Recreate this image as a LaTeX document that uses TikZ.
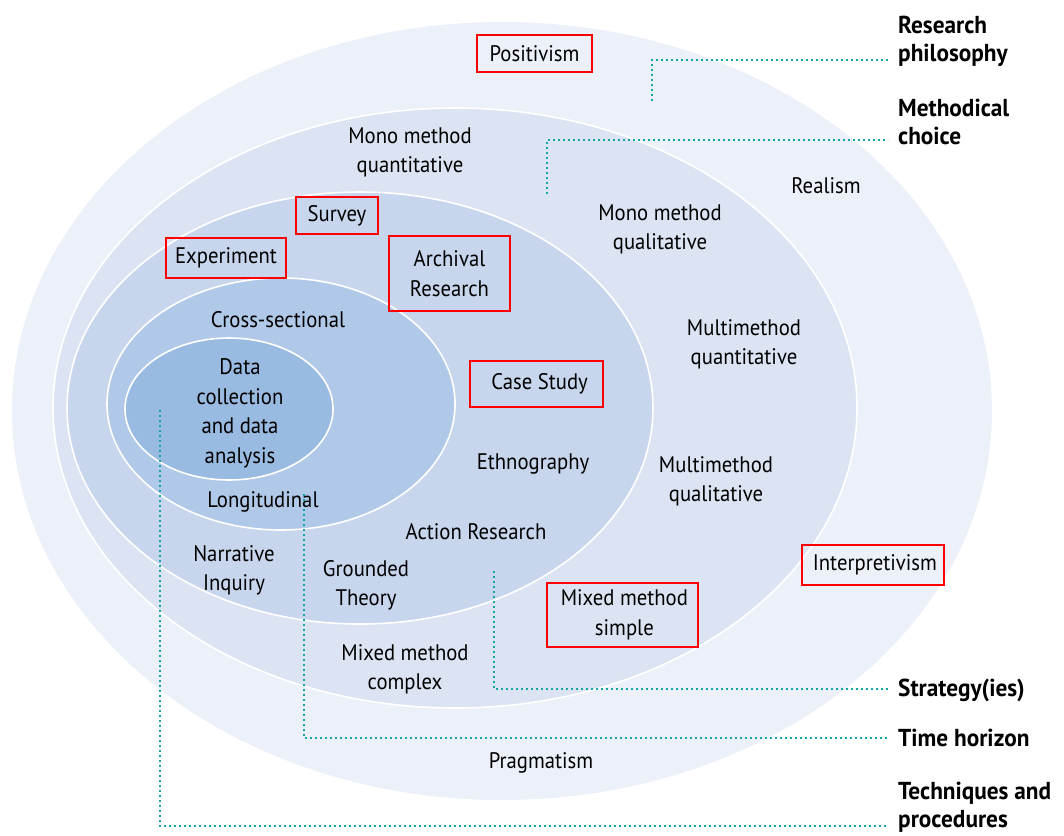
\documentclass[tikz,border=0pt]{standalone}
\usepackage{fontspec}
\setmainfont{PT Sans}[FakeStretch=0.92]
\newfontfamily\headfont{PT Sans}[FakeStretch=0.95]
\usepackage{tikz}
\usetikzlibrary{positioning}
\usepackage{xcolor}
\definecolor{ringA}{RGB}{236,240,249}
\definecolor{ringB}{RGB}{220,228,243}
\definecolor{ringC}{RGB}{199,214,237}
\definecolor{ringD}{RGB}{177,201,232}
\definecolor{ringE}{RGB}{153,186,225}
\definecolor{leadteal}{RGB}{20,165,165}

\begin{document}
\begin{tikzpicture}[x=1pt,y=-1pt,
  layer/.style={fill=#1,draw=white,line width=1.6pt},
  txt/.style={inner sep=0pt,align=center,text=black,font=\fontsize{22.5}{29.5}\selectfont},
  boxed/.style={txt,draw=red,line width=1.8pt},
  head/.style={inner sep=0pt,align=left,anchor=west,font=\headfont\bfseries\fontsize{24.5}{28}\selectfont},
  lead/.style={draw=leadteal,line width=2.6pt,dash pattern=on 2pt off 3pt}
  ]
\useasboundingbox (0,0) rectangle (1064,835);
% the onion, outside in
\fill[ringA] (502,411) ellipse [x radius=490,y radius=389];
\draw[layer=ringB] (455,408) ellipse [x radius=402,y radius=300];
\draw[layer=ringC] (360,408) ellipse [x radius=293,y radius=216];
\draw[layer=ringD] (281,404) ellipse [x radius=174,y radius=126];
\draw[layer=ringE] (229,409) ellipse [x radius=104,y radius=71];

% leaders
\coordinate (RPs) at (652,101);
\coordinate (RPe) at (888,60);
\coordinate (MCs) at (547,194);
\coordinate (MCe) at (888,140);
\coordinate (STs) at (494,571);
\coordinate (STe) at (888,689);
\coordinate (THs) at (304,494);
\coordinate (THe) at (888,738);
\coordinate (TPs) at (160,410);
\coordinate (TPe) at (888,826);
\draw[lead] (RPs) |- (RPe);
\draw[lead] (MCs) |- (MCe);
\draw[lead] (STs) |- (STe);
\draw[lead] (THs) |- (THe);
\draw[lead] (TPs) |- (TPe);

% layer names
\node[head] (RP) at (898,41) {Research\\philosophy};
\node[head] (MC) at (898,121.5) {Methodical\\choice};
\node[head] (ST) at (898,690) {Strategy(ies)};
\node[head] (TH) at (898,738) {Time horizon};
\node[head] (TP) at (898,807) {Techniques and\\procedures};

% philosophies
\node[boxed,minimum width=115,minimum height=37] (posit) at (534.5,53.5) {Positivism};
\node[txt] (realism) at (826,186) {Realism};
\node[boxed,minimum width=142,minimum height=40] (interp) at (873,565) {\,Interpretivism};
\node[txt] (pragm) at (541,763) {Pragmatism};

% methodical choices
\node[txt] (monoqt) at (410,152.5) {Mono method\\quantitative};
\node[txt] (monoql) at (660,229.5) {Mono method\\qualitative};
\node[txt] (multiqt) at (744,344.5) {Multimethod\\quantitative};
\node[txt] (multiql) at (716,481.5) {Multimethod\\qualitative};
\node[boxed,minimum width=151,minimum height=64] (mixsim) at (622.5,615) {\,Mixed method\\\,simple};
\node[txt] (mixcom) at (405,669.5) {Mixed method\\complex};

% strategies
\node[boxed,minimum width=82,minimum height=37] (survey) at (337,215.5) {Survey};
\node[boxed,minimum width=120,minimum height=40] (experi) at (226,258) {Experiment};
\node[boxed,minimum width=121,minimum height=75] (archiv) at (449.5,273.5) {Archival\\Research};
\node[boxed,minimum width=133,minimum height=46] (casest) at (536.5,384) {\;Case Study};
\node[txt] (ethno) at (533,464) {Ethnography};
\node[txt] (action) at (476,532) {Action Research};
\node[txt] (narrat) at (234,570.5) {Narrative\\Inquiry};
\node[txt] (ground) at (366,585.5) {Grounded\\Theory};

% time horizons
\node[txt] (cross) at (278,320) {Cross-sectional};
\node[txt] (longi) at (263,502) {Longitudinal};

% core
\node[txt] (datac) at (240,413.5) {Data\\collection\\and data\\analysis};
\end{tikzpicture}
\end{document}
